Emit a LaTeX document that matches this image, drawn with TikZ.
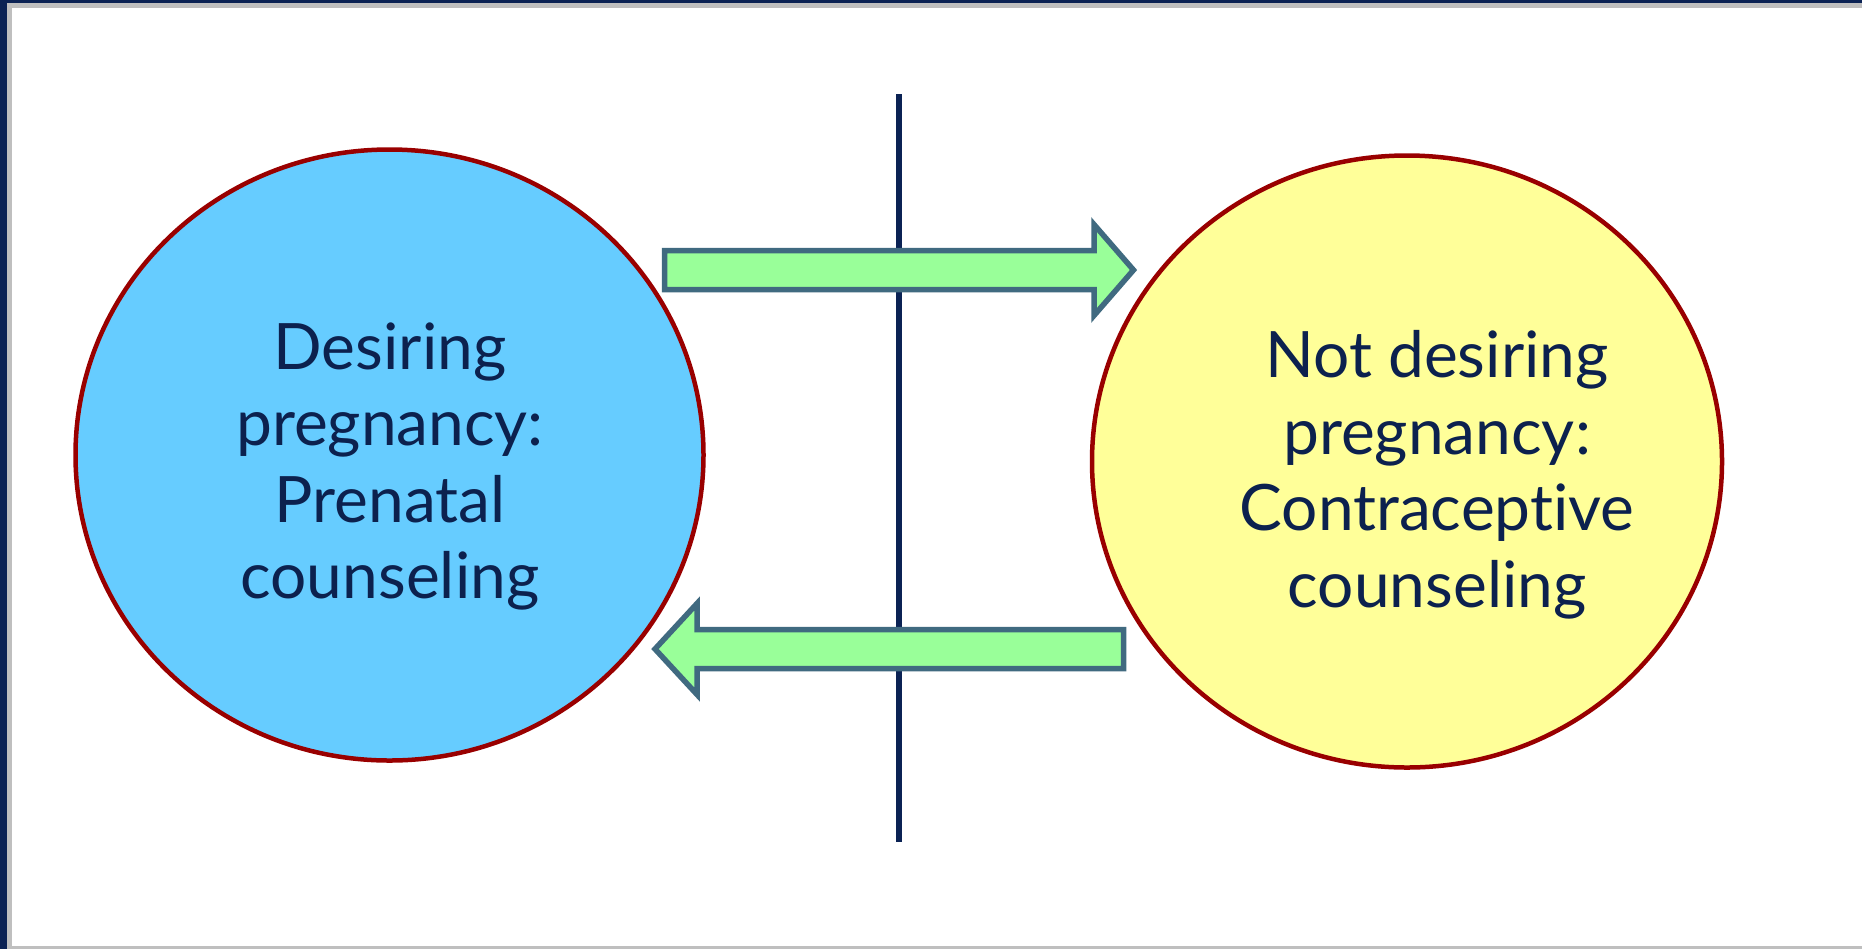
\documentclass[tikz,border=0pt]{standalone}
\usepackage[RGB]{xcolor}
\usepackage{fontspec}
\setmainfont{Lato}[Ligatures=NoCommon]
\usetikzlibrary{shapes.geometric}
\definecolor{navy}{RGB}{11,34,84}
\definecolor{textnavy}{RGB}{12,33,78}
\definecolor{framegray}{RGB}{191,191,191}
\definecolor{ringred}{RGB}{153,0,0}
\definecolor{wantblue}{RGB}{102,204,255}
\definecolor{avoidyellow}{RGB}{255,255,153}
\definecolor{arrowgreen}{RGB}{153,255,153}
\definecolor{arrowedge}{RGB}{64,106,128}
\newcommand{\drawarrow}{\draw[line width=2.75pt, draw=arrowedge, fill=arrowgreen]}
\tikzset{
  choice/.style={ellipse, draw=ringred, line width=2.25pt, inner sep=0pt},
  choicetext/.style={text=textnavy, align=center, font=\fontsize{32}{38.25}\selectfont}
}

\begin{document}
\begin{tikzpicture}[x=0.5pt,y=-0.5pt]
\useasboundingbox (0,0) rectangle (1862,949);
\fill[navy] (0,0) rectangle (7,949);
\fill[navy] (0,0) rectangle (1862,3);
\fill[framegray] (7,3) rectangle (1862,8);
\fill[framegray] (7,3) rectangle (12,949);
\fill[framegray] (7,946) rectangle (1862,949);
\node[choice, fill=wantblue, minimum width=314pt, minimum height=305.5pt] (desire) at (389.5,455) {};
\node[choice, fill=avoidyellow, minimum width=315pt, minimum height=306pt] (avoid) at (1407,461.5) {};
\node[choicetext] (desiretext) at (390,466.5) {Desiring\\pregnancy:\\Prenatal\\counseling};
\node[choicetext] (avoidtext) at (1437,475) {Not desiring\\pregnancy:\\Contraceptive\\counseling};
\coordinate (divtop) at (899,94);
\coordinate (divbottom) at (899,842);
\draw[navy, line width=3.25pt] (divtop) -- (divbottom);
\drawarrow (664.5,250.5)--++(429.5,0)--++(0,-26)--++(39.5,45.5)--++(-39.5,45.5)--++(0,-26)--++(-429.5,0)--cycle;
\drawarrow (1123.5,629.5)--++(-426.5,0)--++(0,-26)--++(-42,45.5)--++(42,45.5)--++(0,-26)--++(426.5,0)--cycle;
\end{tikzpicture}
\end{document}
